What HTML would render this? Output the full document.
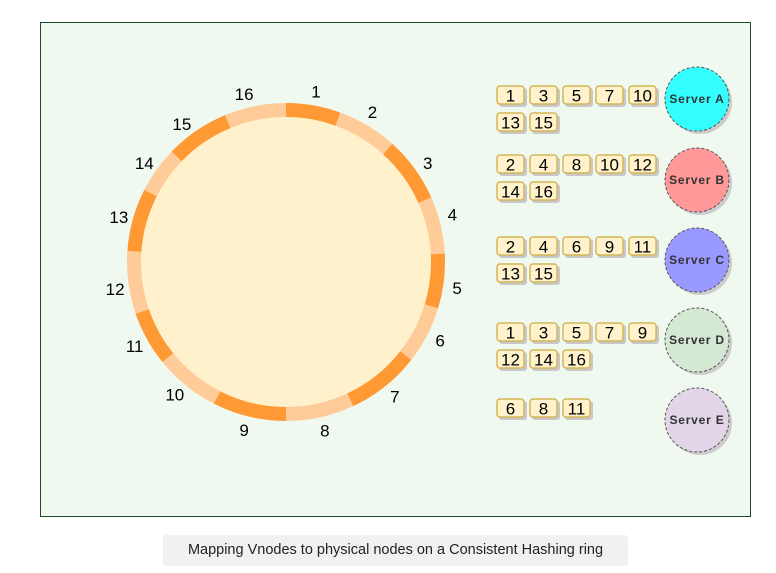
<!DOCTYPE html>
<html><head><meta charset="utf-8"><style>
body{margin:0;width:776px;height:573px;background:#fff;font-family:"Liberation Sans",sans-serif;overflow:hidden}
#caption{position:absolute;left:163px;top:535px;width:465px;height:31px;background:#f1f1f1;border-radius:3px;font-size:14.5px;line-height:31px;text-align:center;color:#222}
</style></head><body>
<svg id="chart" width="776" height="530" style="position:absolute;left:0;top:0">
<rect x="40.5" y="22.5" width="710" height="494" fill="#f0f9ef" stroke="#1d4a2a" stroke-width="1"/>
<circle cx="286" cy="262" r="150" fill="#fff1cc"/>
</svg>
<div id="caption">Mapping Vnodes to physical nodes on a Consistent Hashing ring</div>
<script>
const segments=[1,2,3,4,5,6,7,8,9,10,11,12,13,14,15,16];
const segStart=[0,20,42,66,87,107,128,155,180,207,231,251,274,297,314,337.5];
const labelAngle=[10,30,55,74,98.6,117,141,167,194,220,241,261,285,305,323,346];
const servers=["Server A","Server B","Server C","Server D","Server E"];
const serverColors=["#33ffff","#ff9999","#9999ff","#d5e8d4","#e1d5e7"];
const vnodesA=[1,3,5,7,10,13,15];
const vnodesB=[2,4,8,10,12,14,16];
const vnodesC=[2,4,6,9,11,13,15];
const vnodesD=[1,3,5,7,9,12,14,16];
const vnodesE=[6,8,11];
const groups=[vnodesA,vnodesB,vnodesC,vnodesD,vnodesE];
const NS="http://www.w3.org/2000/svg";
const svg=document.getElementById('chart');
const cx=286,cy=262,rOut=159,rIn=145,rLab=173;
function pt(r,a){const t=a*Math.PI/180;return [cx+r*Math.sin(t),cy-r*Math.cos(t)];}
segments.forEach((s,i)=>{
  const a0=segStart[i],a1=i+1<segStart.length?segStart[i+1]:360;
  const p1=pt(rOut,a0),p2=pt(rOut,a1),p3=pt(rIn,a1),p4=pt(rIn,a0);
  const p=document.createElementNS(NS,'path');
  p.setAttribute('d',`M${p1}A${rOut},${rOut} 0 0 1 ${p2}L${p3}A${rIn},${rIn} 0 0 0 ${p4}Z`);
  p.setAttribute('fill',s%2?'#ff9933':'#ffcc99');
  
  
  svg.appendChild(p);
  const lp=pt(rLab,labelAngle[i]);
  const t=document.createElementNS(NS,'text');
  t.setAttribute('x',lp[0]);t.setAttribute('y',lp[1]+6);
  t.setAttribute('text-anchor','middle');t.setAttribute('font-size','17');
  t.setAttribute('font-family','Liberation Sans, sans-serif');
  t.textContent=s;
  
  
  svg.appendChild(t);
});
const rowTops=[86,155,237,323,399];
const serverY=[99,180,260,340,420];
groups.forEach((g,gi)=>{
  g.forEach((v,i)=>{
    const col=i%5,row=Math.floor(i/5);
    const x=497+col*33,y=rowTops[gi]+row*27;
    const sh=document.createElementNS(NS,'rect');
    sh.setAttribute('x',x+2);sh.setAttribute('y',y+2);sh.setAttribute('width',28);sh.setAttribute('height',19);sh.setAttribute('rx',3);sh.setAttribute('fill','#c8c8c8');
    
    
    svg.appendChild(sh);
    const r=document.createElementNS(NS,'rect');
    r.setAttribute('x',x);r.setAttribute('y',y);r.setAttribute('width',27);r.setAttribute('height',18);r.setAttribute('rx',3);
    r.setAttribute('fill','#fff2cc');r.setAttribute('stroke','#d6b656');r.setAttribute('stroke-width','1.5');
    
    
    svg.appendChild(r);
    const t=document.createElementNS(NS,'text');
    t.setAttribute('x',x+13.5);t.setAttribute('y',y+15.5);t.setAttribute('text-anchor','middle');t.setAttribute('font-size','17');
    t.setAttribute('font-family','Liberation Sans, sans-serif');
    t.textContent=v;
    
    
    svg.appendChild(t);
  });
  const sh=document.createElementNS(NS,'circle');
  sh.setAttribute('cx',700);sh.setAttribute('cy',serverY[gi]+3);sh.setAttribute('r',32);sh.setAttribute('fill','#cccccc');
  
  
  svg.appendChild(sh);
  const c=document.createElementNS(NS,'circle');
  c.setAttribute('cx',697);c.setAttribute('cy',serverY[gi]);c.setAttribute('r',32);c.setAttribute('fill',serverColors[gi]);
  c.setAttribute('stroke','#555');c.setAttribute('stroke-dasharray','3,2');c.setAttribute('stroke-width','1');
  
  
  svg.appendChild(c);
  const t=document.createElementNS(NS,'text');
  t.setAttribute('x',697);t.setAttribute('y',serverY[gi]+4);t.setAttribute('text-anchor','middle');t.setAttribute('font-size','12');
  t.setAttribute('font-weight','bold');t.setAttribute('fill','#333');t.setAttribute('letter-spacing','0.8');
  t.setAttribute('font-family','Liberation Sans, sans-serif');
  t.textContent=servers[gi];
  
  
  svg.appendChild(t);
});
</script>
</body></html>
